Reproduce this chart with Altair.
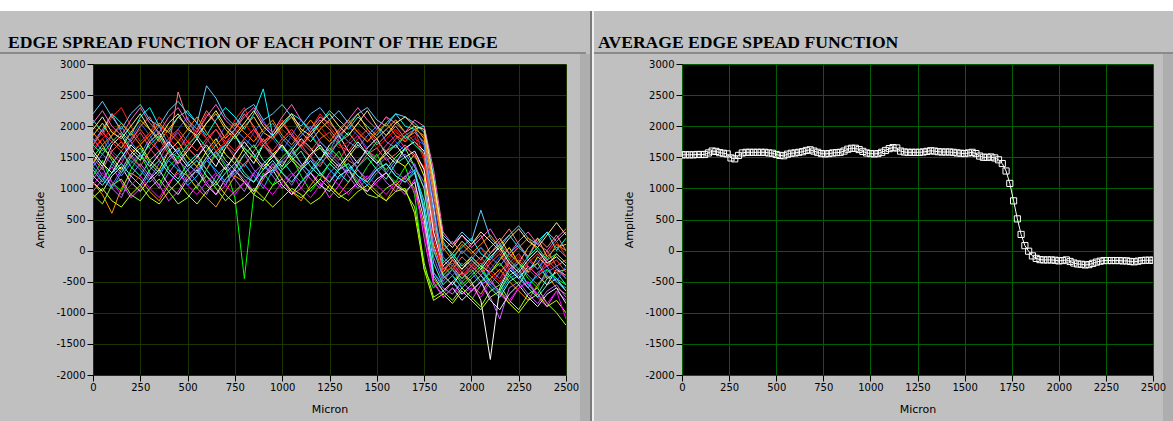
import altair as alt
import pandas as pd

# ---------------- data ----------------
# Left panel: edge spread function of individual edge points (sampled every 50 micron)
esf_micron = [0, 50, 100, 150, 200, 250, 300, 350, 400, 450,
              500, 550, 600, 650, 700, 750, 800, 850, 900, 950,
              1000, 1050, 1100, 1150, 1200, 1250, 1300, 1350, 1400, 1450,
              1500, 1550, 1600, 1650, 1700, 1750, 1800, 1850, 1900, 1950,
              2000, 2050, 2100, 2150, 2200, 2250, 2300, 2350, 2400, 2450,
              2500]

esf_01 = [2000, 1850, 2150, 2300, 2000, 1750, 1900, 2150, 1950, 1800,
          1650, 1900, 2200, 2050, 1800, 2100, 2300, 1950, 1750, 1900,
          2100, 1850, 1700, 1950, 2200, 2000, 1800, 2050, 1900, 1750,
          1950, 2150, 1900, 1800, 1950, 1500, 300, -200, -50, -250,
          -100, 50, -200, -350, -150, 100, -100, -300, -50, 150,
          -100]
esf_02 = [1200, 1450, 1100, 950, 1300, 1550, 1250, 1050, 1350, 1500,
          1200, 1000, 1300, 1600, 1350, 850, -450, 900, 1250, 1050,
          1300, 1500, 1200, 950, 1150, 1400, 1600, 1300, 1100, 1350,
          1550, 1250, 1100, 1350, 900, -300, -600, -450, -300, -550,
          -400, -250, -500, -650, -350, -200, -450, -600, -300, -450,
          -550]
esf_03 = [1750, 1950, 1600, 1450, 1800, 2050, 1850, 1600, 1700, 1950,
          2150, 1800, 1550, 1750, 2000, 1850, 1650, 1900, 2100, 1800,
          1600, 1850, 2100, 1900, 1650, 1500, 1800, 2000, 1850, 1650,
          1800, 1950, 1750, 1600, 1800, 1700, 800, -250, -400, -200,
          -350, -550, -300, -100, -250, -450, -300, -150, -400, -500,
          -250]
esf_04 = [950, 1150, 1350, 1100, 850, 1000, 1250, 1050, 800, 950,
          1200, 1350, 1100, 900, 1050, 1300, 1150, 950, 1200, 1400,
          1150, 900, 1000, 1250, 1100, 850, 1050, 1300, 1150, 950,
          1100, 1250, 1050, 900, 1150, 200, -550, -700, -500, -650,
          -800, -550, -450, -700, -850, -600, -500, -750, -900, -650,
          -800]
esf_05 = [2100, 1900, 2200, 2050, 1850, 2150, 2300, 2000, 1900, 2150,
          2250, 2050, 1850, 2100, 2300, 2150, 1950, 2200, 2600, 1850,
          2000, 2200, 2100, 1900, 2050, 2250, 2100, 1950, 2150, 2000,
          1850, 2050, 2200, 2000, 1950, 2000, 1200, 150, -100, 50,
          200, -50, -150, 100, 250, 50, -100, 150, 300, 0,
          200]
esf_06 = [1400, 1650, 1500, 1300, 1550, 1700, 1450, 1300, 1600, 1750,
          1500, 1350, 1600, 1800, 1550, 1400, 1650, 1500, 1300, 1550,
          1700, 1450, 1300, 1550, 1650, 1450, 1300, 1500, 1700, 1550,
          1400, 1600, 1450, 1350, 1550, 1200, 100, -350, -150, -300,
          -100, -250, -350, -150, 50, -200, -350, -100, -250, -50,
          -200]
esf_07 = [1550, 1350, 1700, 1850, 1600, 1450, 1750, 1900, 1650, 1400,
          1600, 1800, 1550, 1350, 1650, 1850, 1600, 1400, 1700, 1550,
          1350, 1600, 1800, 1650, 1450, 1700, 1850, 1600, 1400, 1650,
          1800, 1550, 1400, 1650, 1750, 1600, 700, -400, -550, -350,
          -500, -800, -1750, -600, -300, -450, -250, -400, -550, -300,
          -400]
esf_08 = [1100, 900, 600, 1000, 1250, 1150, 950, 800, 1050, 1300,
          1200, 1000, 850, 700, 950, 1200, 1100, 900, 1150, 1350,
          1150, 950, 800, 1050, 1250, 1050, 900, 1100, 1300, 1100,
          950, 800, 1050, 1200, 1000, 400, -450, -650, -500, -350,
          -550, -700, -450, -300, -500, -650, -800, -550, -400, -600,
          -700]
esf_09 = [1700, 1950, 2200, 1900, 1750, 2000, 2150, 1850, 1650, 2550,
          2100, 1950, 2250, 2050, 1800, 1950, 2200, 2000, 1750, 1850,
          2050, 1850, 1650, 1900, 2100, 1950, 1750, 1850, 2050, 1900,
          1700, 1850, 2000, 1800, 1900, 1750, 900, 0, 150, -50,
          100, 250, -50, 150, 350, 100, -100, 200, 50, 250,
          0]
esf_10 = [1450, 1200, 1050, 1300, 1550, 1350, 1150, 1400, 1600, 1350,
          1100, 1300, 1500, 1250, 1050, 1350, 1550, 1300, 1150, 1400,
          1250, 1050, 1300, 1500, 1250, 1100, 1350, 1550, 1300, 1150,
          1350, 1500, 1250, 1150, 1400, 1000, -100, -500, -300, -450,
          -250, -400, -550, -350, -200, -450, -600, -350, -250, -500,
          -650]
esf_11 = [2200, 2400, 2150, 1950, 2200, 2350, 2100, 2000, 2250, 2400,
          2200, 2050, 2650, 2450, 2150, 2000, 2250, 2350, 2100, 2200,
          2350, 2150, 2000, 2200, 2300, 2100, 2250, 2050, 2200, 2300,
          2100, 2000, 2200, 2150, 2050, 1900, 1000, 250, 100, 300,
          150, 650, 200, 50, 250, 400, 200, 100, 300, 150,
          300]
esf_12 = [900, 750, 1050, 1150, 900, 800, 1000, 1150, 950, 750,
          850, 1050, 1200, 1000, 800, 950, 1100, 900, 800, 1050,
          1150, 950, 850, 1000, 1150, 1000, 850, 950, 1100, 900,
          850, 1000, 1100, 950, 700, -200, -750, -650, -800, -600,
          -750, -900, -650, -550, -800, -950, -700, -600, -850, -1000,
          -1200]
esf_13 = [1600, 1800, 1550, 1400, 1700, 1900, 1650, 1450, 1750, 1900,
          1650, 1500, 1750, 1950, 1700, 1550, 1800, 1950, 1700, 1500,
          1750, 1900, 1650, 1500, 1750, 1600, 1450, 1700, 1850, 1600,
          1500, 1700, 1850, 1650, 1550, 1300, 200, -300, -200, -400,
          -250, -100, -300, -450, -200, -50, -250, -400, -150, -300,
          -450]
esf_14 = [1300, 1100, 1400, 1600, 1350, 1200, 1450, 1600, 1300, 1150,
          1400, 1550, 1300, 1100, 1350, 1500, 1250, 1100, 1400, 1550,
          1300, 1450, 1600, 1350, 1200, 1400, 1250, 1100, 1350, 1500,
          1300, 1150, 1400, 1500, 1250, 800, -200, -550, -400, -600,
          -450, -300, -500, -650, -400, -300, -550, -700, -450, -350,
          -550]
esf_15 = [1850, 2050, 1800, 1650, 1900, 2100, 1950, 1750, 1950, 2150,
          2000, 1800, 2050, 2200, 1950, 1800, 2000, 2150, 1900, 1800,
          2000, 2150, 1900, 1750, 1950, 2100, 1850, 2000, 2200, 1950,
          1800, 1950, 2100, 1900, 2000, 1800, 1100, 100, -50, 150,
          0, -150, 50, 200, -50, -200, 50, 200, -100, 50,
          100]
esf_16 = [1150, 1350, 1000, 850, 1200, 1400, 1200, 1000, 1250, 1450,
          1300, 1100, 900, 1200, 1350, 1150, 950, 1250, 1400, 1200,
          1000, 1200, 1350, 1150, 1000, 1250, 1400, 1200, 1000, 1150,
          1300, 1100, 950, 1200, 1300, 600, -350, -600, -700, -500,
          -650, -500, -750, -1100, -600, -500, -700, -850, -650, -550,
          -750]
esf_17 = [1500, 1300, 1600, 1750, 1500, 1350, 1600, 1800, 1550, 1400,
          1650, 1500, 1300, 1550, 1700, 1500, 1350, 1600, 1800, 1550,
          1400, 1550, 1700, 1500, 1350, 1600, 1750, 1450, 1350, 1550,
          1650, 1450, 1550, 1700, 1500, 1350, 400, -150, -300, -100,
          -250, -400, -200, -50, -300, -150, -350, -200, 0, -250,
          -150]
esf_18 = [1800, 1600, 1850, 2000, 1750, 1550, 1800, 2000, 1700, 1600,
          1850, 2050, 1800, 1600, 1700, 1950, 1800, 1650, 1900, 2050,
          1800, 1650, 1850, 2000, 1750, 1600, 1900, 1750, 1650, 1850,
          2000, 1750, 1650, 1850, 1950, 1700, 600, -100, -250, 0,
          -150, 50, -100, -250, -50, 100, -150, -300, -100, 50,
          -100]
esf_19 = [1500, 1700, 1450, 1250, 1500, 1650, 1400, 1250, 1500, 1650,
          1400, 1250, 1500, 1700, 1450, 1300, 1550, 1700, 1450, 1300,
          1500, 1650, 1400, 1250, 1450, 1650, 1500, 1300, 1450, 1600,
          1450, 1300, 1500, 1650, 1350, 1000, 0, -400, -250, -450,
          -300, -500, -350, -200, -400, -550, -300, -200, -450, -350,
          -300]
esf_20 = [1100, 950, 1200, 1350, 1100, 950, 1150, 1300, 1050, 900,
          1150, 1300, 1050, 900, 1150, 1300, 1100, 950, 1200, 1300,
          1050, 900, 1100, 1250, 1050, 950, 1200, 1300, 1050, 950,
          1150, 1250, 1050, 950, 1100, 500, -500, -750, -600, -800,
          -650, -500, -800, -950, -700, -550, -750, -900, -700, -600,
          -850]
esf_21 = [1650, 1800, 1950, 1750, 1600, 1700, 1900, 2050, 1800, 1650,
          1750, 1950, 1800, 1600, 1750, 1900, 2050, 1850, 1650, 1800,
          1950, 1800, 1650, 1850, 2000, 1800, 1650, 1750, 1950, 1800,
          1650, 1800, 1950, 1750, 1850, 1450, 150, -350, -250, -400,
          -300, -150, -350, -500, -250, -100, -300, -450, -200, -350,
          -400]
esf_22 = [1350, 1150, 1000, 1250, 1450, 1300, 1100, 1250, 1450, 1300,
          1050, 1200, 1450, 1300, 1100, 1250, 1400, 1200, 1000, 1300,
          1450, 1250, 1100, 1300, 1500, 1300, 1150, 1350, 1200, 1050,
          1250, 1400, 1200, 1100, 1300, 700, -350, -550, -400, -600,
          -450, -300, -550, -700, -450, -350, -550, -400, -300, -500,
          -600]
esf_23 = [2050, 2250, 2000, 1850, 2100, 2300, 2050, 1900, 2150, 2300,
          2050, 1900, 2150, 2350, 2100, 1950, 2150, 2300, 2050, 1900,
          2150, 2350, 2100, 1950, 2150, 2050, 1900, 2100, 2300, 2100,
          1950, 2150, 2050, 1900, 2100, 2000, 1300, 300, 100, 250,
          50, 200, 350, 100, -50, 150, 300, 100, 0, 200,
          350]
esf_24 = [850, 1000, 800, 700, 900, 1050, 850, 750, 950, 1100,
          900, 750, 950, 1100, 900, 750, 850, 1000, 850, 700,
          850, 1000, 900, 750, 850, 1050, 900, 800, 950, 1050,
          900, 800, 950, 1000, 600, -300, -800, -700, -850, -650,
          -800, -950, -750, -650, -850, -1000, -800, -700, -900, -800,
          -1000]
esf_25 = [1600, 1400, 1250, 1500, 1700, 1550, 1350, 1550, 1750, 1550,
          1350, 1500, 1700, 1500, 1300, 1550, 1750, 1550, 1350, 1500,
          1700, 1500, 1350, 1550, 1700, 1500, 1350, 1550, 1750, 1550,
          1400, 1550, 1700, 1500, 1600, 1300, 300, -250, -100, -300,
          -150, -300, -100, 50, -200, -350, -150, 0, -200, -100,
          -250]
esf_26 = [1900, 1700, 1850, 2050, 1900, 1700, 1850, 2050, 1900, 1750,
          1950, 2150, 1900, 1700, 1850, 2050, 1900, 1750, 1950, 2100,
          1850, 1700, 1900, 2100, 1900, 1750, 1950, 2100, 1900, 1750,
          1900, 2050, 1850, 1750, 1950, 1850, 1000, 50, -150, 100,
          -50, 100, 250, 50, -100, 50, 200, 0, -150, 100,
          0]
esf_27 = [1350, 1550, 1400, 1200, 1400, 1550, 1350, 1200, 1450, 1600,
          1400, 1250, 1450, 1600, 1400, 1200, 1400, 1550, 1350, 1250,
          1450, 1600, 1400, 1250, 1400, 1550, 1400, 1250, 1450, 1600,
          1400, 1250, 1450, 1550, 1350, 1100, 50, -450, -300, -500,
          -350, -200, -400, -550, -300, -200, -400, -550, -350, -250,
          -450]
esf_28 = [1700, 1550, 1750, 1900, 1650, 1500, 1700, 1850, 1600, 1500,
          1700, 1850, 1650, 1500, 1700, 1850, 1650, 1500, 1700, 1850,
          1650, 1500, 1700, 1850, 1650, 1550, 1750, 1900, 1700, 1550,
          1750, 1600, 1700, 1850, 1700, 1550, 500, -200, -50, -250,
          -100, -250, -50, 100, -150, -300, -100, 50, -150, -50,
          -200]
esf_29 = [1050, 1250, 1100, 900, 1050, 1200, 1000, 850, 1100, 1250,
          1050, 900, 1100, 1250, 1050, 900, 1100, 1250, 1050, 900,
          1100, 1250, 1000, 850, 1050, 1200, 1050, 900, 1100, 1200,
          1050, 900, 1100, 1150, 950, 350, -500, -750, -600, -700,
          -600, -750, -500, -650, -800, -600, -500, -700, -850, -650,
          -1100]
esf_30 = [1950, 2150, 1900, 1800, 2000, 2200, 1950, 1800, 2050, 2200,
          1950, 1850, 2050, 2250, 2000, 1850, 2050, 2250, 2000, 1850,
          2050, 2200, 1950, 1850, 2050, 2200, 2000, 1850, 2050, 2250,
          2000, 1850, 2050, 2150, 2000, 1950, 1150, 200, 50, 250,
          100, 300, 150, 0, 200, 350, 150, 50, 250, 450,
          250]
esf_31 = [1200, 1050, 1250, 1400, 1200, 1050, 1300, 1450, 1250, 1100,
          1300, 1450, 1200, 1050, 1250, 1400, 1200, 1100, 1300, 1450,
          1250, 1100, 1300, 1450, 1250, 1100, 1300, 1400, 1200, 1100,
          1300, 1400, 1200, 1100, 1250, 650, -400, -650, -500, -700,
          -550, -400, -600, -750, -500, -400, -600, -750, -550, -450,
          -650]
esf_32 = [1700, 1900, 1750, 1600, 1800, 1950, 1750, 1600, 1800, 1950,
          1750, 1600, 1800, 1950, 1750, 1600, 1800, 1950, 1750, 1600,
          1800, 1950, 1750, 1600, 1800, 1900, 1700, 1600, 1800, 1950,
          1750, 1600, 1800, 1900, 1750, 1550, 500, -300, -150, -350,
          -200, -350, -150, 0, -250, -400, -200, -50, -250, -150,
          -350]

esf_series = [esf_01, esf_02, esf_03, esf_04, esf_05, esf_06, esf_07, esf_08,
              esf_09, esf_10, esf_11, esf_12, esf_13, esf_14, esf_15, esf_16,
              esf_17, esf_18, esf_19, esf_20, esf_21, esf_22, esf_23, esf_24,
              esf_25, esf_26, esf_27, esf_28, esf_29, esf_30, esf_31, esf_32]
esf_colors = ["#ff2020", "#00ff00", "#3355ff", "#ff40ff", "#00ffff", "#ffff00", "#ffffff",
              "#ff9900", "#ff8080", "#9966ff", "#66ccff", "#99ff33", "#ff3399", "#33ffcc",
              "#ffcc33", "#cc66ff", "#ff6666", "#4499ff", "#66ff66", "#e8e8ff",
              "#ff0000", "#00c0ff", "#ff66cc", "#ccff00", "#ffffff", "#ff8800", "#8080ff",
              "#00ff99", "#ff00ff", "#ffee88", "#66ffff", "#ff4444"]

# Right panel: average edge spread function (sampled every 20 micron)
avg_micron = list(range(0, 2501, 20))
avg_amplitude = [
    1540, 1540, 1540, 1540, 1545, 1545, 1545, 1570, 1600, 1595,   # 0-180
    1575, 1565, 1555, 1490, 1475, 1530, 1570, 1580, 1580, 1580,   # 200-380
    1580, 1580, 1580, 1570, 1565, 1545, 1530, 1525, 1550, 1565,   # 400-580
    1570, 1580, 1590, 1610, 1620, 1600, 1580, 1560, 1555, 1560,   # 600-780
    1570, 1575, 1580, 1600, 1630, 1645, 1645, 1625, 1595, 1570,   # 800-980
    1560, 1555, 1560, 1580, 1610, 1640, 1655, 1650, 1600, 1585,   # 1000-1180
    1580, 1580, 1580, 1580, 1585, 1595, 1605, 1600, 1590, 1585,   # 1200-1380
    1585, 1585, 1580, 1570, 1565, 1560, 1570, 1580, 1560, 1520,   # 1400-1580
    1500, 1500, 1505, 1490, 1460, 1400, 1280, 1080, 800, 510,     # 1600-1780
    260, 80, -10, -85, -125, -145, -150, -150, -150, -155,        # 1800-1980
    -165, -160, -150, -175, -200, -215, -220, -230, -225, -205,   # 2000-2180
    -185, -170, -160, -160, -160, -160, -160, -165, -165, -175,   # 2200-2380
    -180, -170, -160, -155, -155, -155,                           # 2400-2500
]

x_ticks = [0, 250, 500, 750, 1000, 1250, 1500, 1750, 2000, 2250, 2500]
y_ticks = [-2000, -1500, -1000, -500, 0, 500, 1000, 1500, 2000, 2500, 3000]
titles = ["EDGE SPREAD FUNCTION OF EACH POINT OF THE EDGE", "AVERAGE EDGE SPEAD FUNCTION"]

# ---------------- tables ----------------
rows = []
line_names = []
for i, series in enumerate(esf_series):
    assert len(series) == len(esf_micron), (i, len(series))
    name = f"p{i + 1:02d}"
    line_names.append(name)
    for m, a in zip(esf_micron, series):
        rows.append({"line": name, "micron": m, "amplitude": a})
esf_df = pd.DataFrame(rows)

assert len(avg_micron) == len(avg_amplitude), len(avg_amplitude)
avg_df = pd.DataFrame({"micron": avg_micron, "amplitude": avg_amplitude})

# ---------------- styling ----------------
LABEL_FONT = "DejaVu Sans"
TITLE_FONT = "Liberation Serif"
W_LEFT, W_RIGHT, H = 473, 471, 311
LEFT0, TOP0 = 93, 64          # where the left plot area starts in the window
RIGHT0 = 682                  # where the right plot area starts in the window
WIN_W, WIN_H = 1173, 421


def x_enc(width, grid_color):
    return alt.X("micron:Q", scale=alt.Scale(domain=[0, 2500], nice=False, zero=False),
                 axis=alt.Axis(values=x_ticks, labelExpr="'' + datum.value", title="Micron",
                               grid=True, gridColor=grid_color, gridOpacity=1, domain=False,
                               tickSize=6, tickColor="#000000", labelPadding=1,
                               labelFont=LABEL_FONT, labelFontSize=10, labelColor="#000000",
                               labelOverlap=False, labelFlush=False,
                               titleFont=LABEL_FONT, titleFontSize=11, titleFontWeight="normal",
                               titleColor="#000000", titleX=width / 2, titleY=28,
                               titleBaseline="top"))


def y_enc(grid_color):
    return alt.Y("amplitude:Q", scale=alt.Scale(domain=[-2000, 3000], nice=False, zero=False),
                 axis=alt.Axis(values=y_ticks, labelExpr="'' + datum.value", title="Amplitude",
                               grid=True, gridColor=grid_color, gridOpacity=1, domain=False,
                               tickSize=6, tickColor="#000000", labelPadding=2,
                               labelFont=LABEL_FONT, labelFontSize=10, labelColor="#000000",
                               labelOverlap=False, labelFlush=False,
                               titleFont=LABEL_FONT, titleFontSize=11, titleFontWeight="normal",
                               titleColor="#000000", titleX=-48, titleY=H / 2,
                               titleBaseline="bottom"))


def rect(x1, x2, y1, y2, color, opacity=1.0):
    return alt.Chart(alt.Data(values=[{"k": 1}])).mark_rect(color=color, opacity=opacity).encode(
        x=alt.value(x1), x2=alt.value(x2), y=alt.value(y1), y2=alt.value(y2))


def panel_title(text, dx):
    return alt.Chart(alt.Data(values=[{"t": text}])).mark_text(
        align="left", baseline="alphabetic", font=TITLE_FONT, fontSize=17.6,
        fontWeight="bold", color="#000000").encode(
        x=alt.value(dx), y=alt.value(-16), text="t:N")


# window frame (coordinates relative to the left plot area's top-left corner)
window = rect(-LEFT0, WIN_W - LEFT0, -TOP0, WIN_H - TOP0, "#c0c0c0", opacity=0)
top_strip = rect(-LEFT0, WIN_W - LEFT0, -TOP0, -TOP0 + 11, "#ffffff")
underline_l = rect(-LEFT0, 586 - LEFT0, 52 - TOP0, 54 - TOP0, "#8a8a8a")
underline_r = rect(594 - LEFT0, WIN_W - LEFT0, 52 - TOP0, 54 - TOP0, "#8a8a8a")
divider_shade = rect(580 - LEFT0, 590 - LEFT0, 54 - TOP0, WIN_H - TOP0, "#aeaeae")
divider_dark = rect(590 - LEFT0, 592 - LEFT0, 11 - TOP0, WIN_H - TOP0, "#7a7a7a")
divider_light = rect(592 - LEFT0, 594 - LEFT0, 11 - TOP0, WIN_H - TOP0, "#f0f0f0")
right_shade = rect(1163 - LEFT0, WIN_W - LEFT0, 54 - TOP0, WIN_H - TOP0, "#aeaeae")

left_lines = alt.Chart(esf_df).mark_line(strokeWidth=1, clip=True).encode(
    x=x_enc(W_LEFT, "#1c3400"),
    y=y_enc("#1c3400"),
    color=alt.Color("line:N", scale=alt.Scale(domain=line_names, range=esf_colors), legend=None),
    detail="line:N",
)

left = alt.layer(window, top_strip, underline_l, underline_r, divider_shade, divider_dark,
                 divider_light, right_shade, panel_title(titles[0], 8 - LEFT0),
                 left_lines).properties(width=W_LEFT, height=H)

right_line = alt.Chart(avg_df).mark_line(color="#ffffff", strokeWidth=1, clip=True).encode(
    x=x_enc(W_RIGHT, "#006000"), y=y_enc("#006000"))
right_pts = alt.Chart(avg_df).mark_point(shape="square", size=38, filled=False, color="#ffffff",
                                         strokeWidth=1, opacity=1, clip=True).encode(
    x=x_enc(W_RIGHT, "#006000"), y=y_enc("#006000"))

right = alt.layer(panel_title(titles[1], 598 - RIGHT0), right_line, right_pts).properties(
    width=W_RIGHT, height=H)

chart = alt.hconcat(left, right, spacing=RIGHT0 - LEFT0 - W_LEFT, bounds="flush").properties(
    padding={"left": 0, "top": 0, "right": 0, "bottom": 0},
).configure(background="#c0c0c0").configure_view(fill="#000000", stroke=None)

chart.save("out.html", embed_options={"renderer": "svg", "actions": False})
